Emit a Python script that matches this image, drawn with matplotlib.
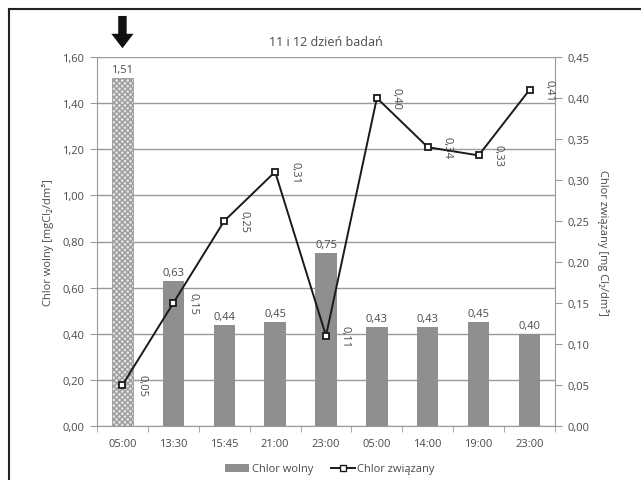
import matplotlib
matplotlib.use("Agg")
import matplotlib.pyplot as plt
import numpy as np
from matplotlib.lines import Line2D
from matplotlib.patches import Patch
from matplotlib.ticker import FuncFormatter, MultipleLocator, FixedLocator

plt.rcParams["font.family"] = ["Open Sans", "DejaVu Sans"]

times = ["05:00", "13:30", "15:45", "21:00", "23:00", "05:00", "14:00", "19:00", "23:00"]
chlor_wolny = [1.51, 0.63, 0.44, 0.45, 0.75, 0.43, 0.43, 0.45, 0.40]
chlor_zwiazany = [0.05, 0.15, 0.25, 0.31, 0.11, 0.40, 0.34, 0.33, 0.41]

TXT = "#4a4a4a"
GRID = "#9a9a9a"
comma = lambda v, _: f"{v:.2f}".replace(".", ",")

fig = plt.figure(figsize=(6.41, 4.81), dpi=100)
ax = fig.add_axes([97 / 641, 1 - 427 / 481, 458 / 641, 369 / 481])
x = np.arange(len(times))

# bars: first one hatched, rest solid grey
for i, v in enumerate(chlor_wolny):
    if i == 0:
        ax.bar(x[i], v, 0.42, facecolor="#e2e2e2", edgecolor="#9c9c9c", hatch="xxxxxx", lw=0.6, zorder=2)
    else:
        ax.bar(x[i], v, 0.42, color="#8f8f8f", zorder=2)
    ax.annotate(comma(v, None), (x[i], v), xytext=(0, 2), textcoords="offset points",
                ha="center", va="bottom", fontsize=8, color=TXT)

ax.set_ylim(0, 1.6)
ax.set_xlim(-0.5, len(times) - 0.5)
ax.yaxis.set_major_locator(MultipleLocator(0.2))
ax.yaxis.set_major_formatter(FuncFormatter(comma))
ax.grid(axis="y", color=GRID, lw=1.0, zorder=0)
ax.set_xticks(x)
ax.set_xticklabels(times)
ax.xaxis.set_minor_locator(FixedLocator(np.arange(-0.5, len(times), 1.0)))
ax.tick_params(axis="x", which="major", length=0, pad=9, labelsize=8, labelcolor=TXT)
ax.tick_params(axis="x", which="minor", length=4, color=GRID)
ax.tick_params(axis="y", length=5, color=GRID, labelsize=8, labelcolor=TXT, pad=4)
for s in ("top", "right"):
    ax.spines[s].set_visible(False)
for s in ("left", "bottom"):
    ax.spines[s].set_color(GRID)
ax.set_ylabel("Chlor wolny [mgCl₂/dm³]", fontsize=8, color=TXT, labelpad=6)

# bound chlorine on secondary axis
ax2 = ax.twinx()
ax2.plot(x, chlor_zwiazany, color="#1a1a1a", lw=1.4, marker="s", ms=5,
         mfc="white", mec="#1a1a1a", mew=1.3, zorder=3)
for xi, v in zip(x, chlor_zwiazany):
    ax2.annotate(comma(v, None), (xi, v), xytext=(14, 0), textcoords="offset points",
                 ha="center", va="center", rotation=-90, fontsize=8, color=TXT)
ax2.set_ylim(0, 0.45)
ax2.yaxis.set_major_locator(MultipleLocator(0.05))
ax2.yaxis.set_major_formatter(FuncFormatter(comma))
ax2.tick_params(axis="y", length=5, color=GRID, labelsize=8, labelcolor=TXT, pad=4)
for s in ("top", "left", "bottom"):
    ax2.spines[s].set_visible(False)
ax2.spines["right"].set_color(GRID)
ax2.set_ylabel("Chlor związany [mg Cl₂/dm³]", fontsize=8, color=TXT, rotation=270, labelpad=14)

ax.set_title("11 i 12 dzień badań", fontsize=9, color=TXT, pad=9)

# marker arrow above first sample
ax.annotate("", xy=(0, 1.626), xytext=(0, 1.79), annotation_clip=False,
            arrowprops=dict(arrowstyle="simple,head_length=0.65,head_width=1.0,tail_width=0.38",
                            mutation_scale=16, color="#111111", lw=0))

handles = [Patch(facecolor="#8f8f8f", edgecolor="none"),
           Line2D([], [], color="#1a1a1a", lw=1.4, marker="s", ms=5, mfc="white", mec="#1a1a1a")]
fig.legend(handles, ["Chlor wolny", "Chlor związany"], loc="center",
           bbox_to_anchor=(330 / 641, 1 - 470 / 481), ncol=2, frameon=False,
           fontsize=8, labelcolor=TXT, handlelength=2.2, handletextpad=0.2, columnspacing=1.6)

# page frame lines
fig.add_artist(Line2D([9 / 641, 1], [1 - 10 / 481, 1 - 10 / 481], color="#222222", lw=1.5))
fig.add_artist(Line2D([9 / 641, 9 / 641], [0, 1 - 10 / 481], color="#222222", lw=1.5))

fig.savefig("out.png", dpi=100)
